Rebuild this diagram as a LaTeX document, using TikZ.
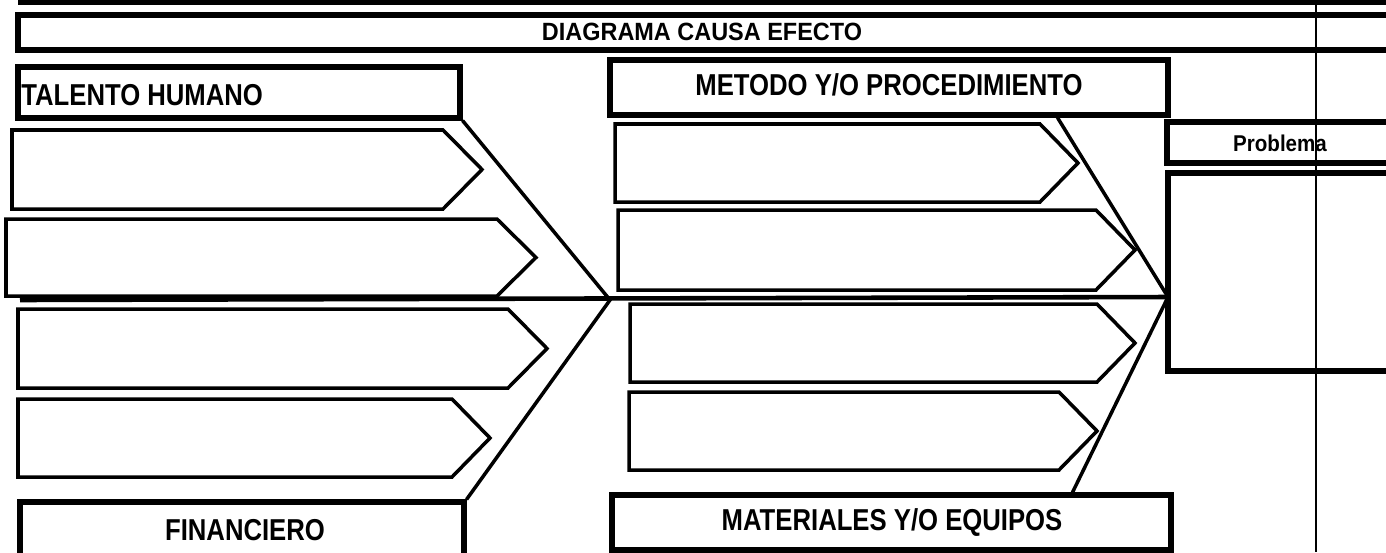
\documentclass[tikz,border=0pt]{standalone}
\usepackage{fontspec}
\setmainfont{Liberation Sans}
\usetikzlibrary{fit,calc}
\newcommand\causebox[5]{\draw[cause] (#1,#4) -- (#2,#4) -- (#3,{(#4+#5)/2}) -- (#2,#5) -- (#1,#5) -- cycle;}
\newcommand\narrowtext[2]{\scalebox{#1}[1]{#2}}
\begin{document}
\begin{tikzpicture}[x=0.02cm,y=-0.02cm,
  frame/.style={draw, line width=2.9pt, inner sep=0pt},
  cause/.style={draw, line width=2pt, line join=miter},
  bone/.style={line width=2pt},
  spine/.style={line width=2.6pt},
  thin rule/.style={line width=0.8pt},
  hdr/.style={font=\fontsize{17.2}{19}\selectfont\bfseries, inner sep=0pt},
  ttl/.style={font=\fontsize{14.2}{16}\selectfont\bfseries, inner sep=0pt},
  prb/.style={font=\fontsize{13}{15}\selectfont\bfseries, inner sep=0pt}]
\useasboundingbox (0,0) rectangle (1386,552);
\fill[white] (0,0) rectangle (1386,552);
% top rule and title
\draw[line width=2.9pt] (18,2) -- (1400,2);
\node[frame, fit={(18,15)(1400,50)}] (title) {};
\node[ttl] (titletext) at (702,32) {\narrowtext{0.94}{DIAGRAMA CAUSA EFECTO}};
% category boxes
\node[frame, fit={(18,67)(460,118)}] (th) {};
\node[hdr, anchor=west] (thtext) at (21,95) {\narrowtext{0.85}{TALENTO HUMANO}};
\node[frame, fit={(610,60)(1168,115)}] (mp) {};
\node[hdr] (mptext) at (889,85) {\narrowtext{0.85}{METODO Y/O PROCEDIMIENTO}};
\node[frame, fit={(20,502)(464,570)}] (fi) {};
\node[hdr] (fitext) at (245,530) {\narrowtext{0.85}{FINANCIERO}};
\node[frame, fit={(612,495)(1171,550)}] (me) {};
\node[hdr] (metext) at (892,523) {\narrowtext{0.85}{MATERIALES Y/O EQUIPOS}};
% problem boxes
\node[frame, fit={(1167,122)(1400,163)}] (pb) {};
\node[prb] (pbtext) at (1280,143) {\narrowtext{0.9}{Problema}};
\node[frame, fit={(1168,173)(1400,371)}] (ef) {};
% vertical rule
\coordinate (v0) at (1316,0);
\coordinate (v1) at (1316,552);
\draw[thin rule] (v0) -- (v1);
% spine
\coordinate (s0) at (20,300);
\coordinate (jl) at (610,300);
\coordinate (jr) at (1168,297);
\draw[spine] (s0) -- (jr);
% bones
\path (mp.south west) ++(450,0) coordinate (mt);
\path (me.north west) ++(463,0) coordinate (mb);
\draw[bone] (th.south east) -- (jl) -- (fi.north east);
\draw[bone] (mt) -- (jr) -- (mb);
% cause arrows
\causebox{12}{443}{482}{130}{209}
\causebox{6}{497}{536}{219}{296}
\causebox{18}{508}{547}{309}{388}
\causebox{18}{452}{490}{399}{477}
\causebox{615}{1040}{1078}{124}{202}
\causebox{618}{1096}{1135}{210}{290}
\causebox{630}{1097}{1135}{304}{382}
\causebox{629}{1059}{1097}{392}{470}
\end{tikzpicture}
\end{document}
